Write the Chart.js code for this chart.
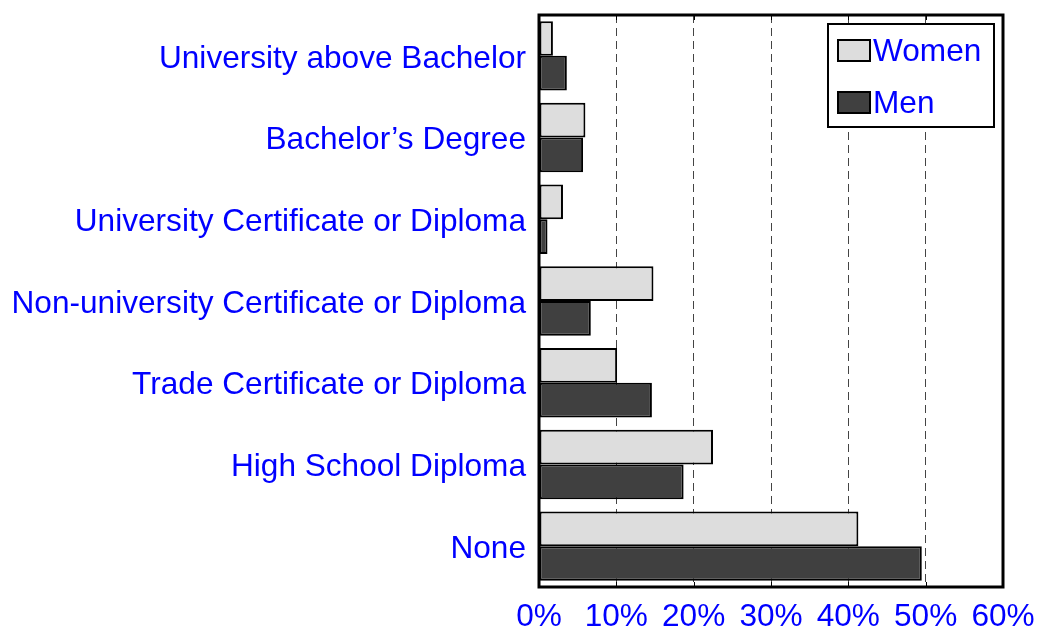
<!DOCTYPE html>
<html>
<head>
<meta charset="utf-8">
<script src="https://cdn.jsdelivr.net/npm/chart.js@4/dist/chart.umd.min.js"></script>
<style>
  html, body { margin: 0; padding: 0; background: #fff; }
  canvas { display: block; }
</style>
</head>
<body>
<canvas id="chart" width="1037" height="631"></canvas>
<script>
const categories = [
    'University above Bachelor',
    'Bachelor\u2019s Degree',
    'University Certificate or Diploma',
    'Non-university Certificate or Diploma',
    'Trade Certificate or Diploma',
    'High School Diploma',
    'None'
];
const womenValues = [1.8, 6.0, 3.1, 14.8, 10.1, 22.5, 41.3];
const menValues = [3.6, 5.7, 1.1, 6.7, 14.6, 18.7, 49.5];
const xTicks = [0, 10, 20, 30, 40, 50, 60];

const FONT = 'Liberation Sans, Arial, Helvetica, sans-serif';
const FONT_SIZE = 31.6;
const BLUE = '#0000ff';

// frame round the plot area plus short tick marks top and bottom
const framePlugin = {
    id: 'frame',
    afterDatasetsDraw(chart) {
        const { ctx, chartArea: a } = chart;
        const xs = chart.scales.x;
        ctx.save();
        ctx.strokeStyle = '#000';
        ctx.lineWidth = 1;
        xTicks.forEach(v => {
            const px = Math.round(xs.getPixelForValue(v)) + 0.5;
            ctx.beginPath();
            ctx.moveTo(px, a.top); ctx.lineTo(px, a.top + 5);
            ctx.moveTo(px, a.bottom); ctx.lineTo(px, a.bottom - 5);
            ctx.stroke();
        });
        ctx.lineWidth = 3;
        ctx.strokeRect(a.left, a.top, a.right - a.left, a.bottom - a.top);
        ctx.restore();
    }
};

// legend box drawn inside the plot, top right
const boxLegend = {
    id: 'boxLegend',
    afterDatasetsDraw(chart) {
        const ctx = chart.ctx;
        const x = 828, y = 24, w = 166, h = 103;
        ctx.save();
        ctx.fillStyle = '#fff';
        ctx.fillRect(x, y, w, h);
        ctx.lineWidth = 2;
        ctx.strokeStyle = '#000';
        ctx.strokeRect(x, y, w, h);
        chart.data.datasets.forEach((ds, i) => {
            const sy = 40 + i * 52;
            ctx.fillStyle = ds.backgroundColor;
            ctx.fillRect(838, sy, 32, 21);
            ctx.lineWidth = 2;
            ctx.strokeRect(838, sy, 32, 21);
            ctx.fillStyle = BLUE;
            ctx.font = FONT_SIZE + 'px ' + FONT;
            ctx.textBaseline = 'middle';
            ctx.fillText(ds.label, 873, sy + 12);
        });
        ctx.restore();
    }
};

new Chart(document.getElementById('chart'), {
    type: 'bar',
    data: {
        labels: categories,
        datasets: [
            {
                label: 'Women',
                data: womenValues,
                backgroundColor: '#dddddd',
                borderColor: '#000',
                borderWidth: 2,
                borderSkipped: false
            },
            {
                label: 'Men',
                data: menValues,
                backgroundColor: '#404040',
                borderColor: '#000',
                borderWidth: 2,
                borderSkipped: false
            }
        ]
    },
    options: {
        indexAxis: 'y',
        responsive: false,
        animation: false,
        layout: { padding: { top: 15, right: 34, left: 0, bottom: 0 } },
        datasets: {
            bar: { categoryPercentage: 0.85, barPercentage: 1.0 }
        },
        plugins: {
            legend: { display: false },
            tooltip: { enabled: false }
        },
        scales: {
            x: {
                type: 'linear',
                min: 0,
                max: 60,
                afterBuildTicks: (s) => { s.ticks = xTicks.map(v => ({ value: v })); },
                afterFit: (s) => { s.height = 44; s.paddingLeft = 0; s.paddingRight = 0; },
                ticks: {
                    color: BLUE,
                    font: { family: FONT, size: FONT_SIZE },
                    padding: 11,
                    callback: (v) => v + '%'
                },
                grid: { color: '#444', lineWidth: 1, drawTicks: false },
                border: { display: false, dash: [8, 5] }
            },
            y: {
                afterFit: (s) => { s.width = 539; s.paddingTop = 0; s.paddingBottom = 0; },
                ticks: {
                    color: BLUE,
                    font: { family: FONT, size: FONT_SIZE },
                    padding: 13,
                    labelOffset: 3
                },
                grid: { display: false, drawTicks: false },
                border: { display: false }
            }
        }
    },
    plugins: [framePlugin, boxLegend]
});
</script>
</body>
</html>
